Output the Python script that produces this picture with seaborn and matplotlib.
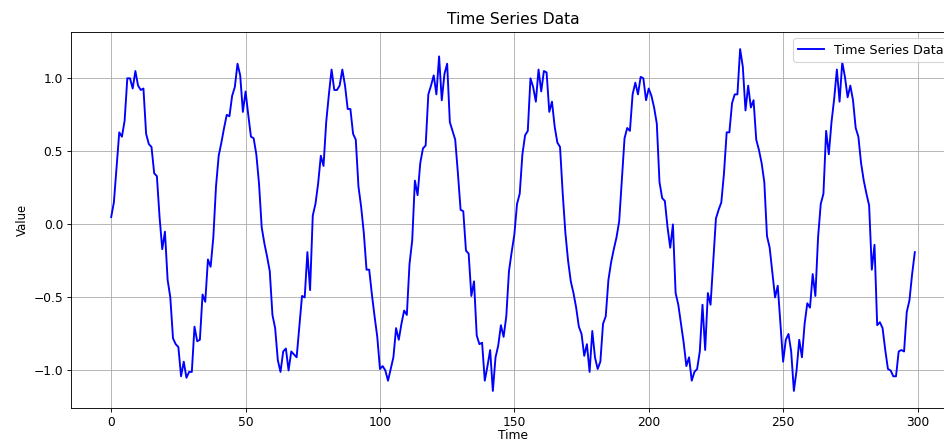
import numpy as np
import pandas as pd
import matplotlib
matplotlib.use("Agg")
import matplotlib.pyplot as plt
import seaborn as sns

values = [
    0.05, 0.15, 0.39, 0.63, 0.60, 0.71, 1.00, 1.00, 0.93, 1.05,
    0.95, 0.92, 0.93, 0.62, 0.55, 0.53, 0.35, 0.33, 0.05, -0.17,
    -0.05, -0.38, -0.50, -0.78, -0.82, -0.84, -1.04, -0.94, -1.05, -1.01,
    -1.01, -0.70, -0.80, -0.79, -0.48, -0.53, -0.24, -0.29, -0.09, 0.26,
    0.47, 0.56, 0.66, 0.75, 0.74, 0.88, 0.94, 1.10, 1.02, 0.77,
    0.91, 0.75, 0.60, 0.59, 0.48, 0.28, -0.02, -0.13, -0.22, -0.32,
    -0.62, -0.71, -0.93, -1.01, -0.87, -0.85, -1.00, -0.87, -0.89, -0.91,
    -0.70, -0.49, -0.50, -0.19, -0.45, 0.06, 0.14, 0.28, 0.47, 0.40,
    0.70, 0.89, 1.06, 0.92, 0.92, 0.95, 1.06, 0.95, 0.79, 0.79,
    0.62, 0.58, 0.26, 0.12, -0.06, -0.31, -0.31, -0.48, -0.63, -0.77,
    -0.99, -0.97, -1.00, -1.07, -0.99, -0.91, -0.71, -0.79, -0.68, -0.59,
    -0.62, -0.27, -0.11, 0.30, 0.20, 0.42, 0.52, 0.54, 0.89, 0.95,
    1.02, 0.89, 1.15, 0.85, 1.03, 1.10, 0.70, 0.64, 0.58, 0.35,
    0.10, 0.09, -0.18, -0.20, -0.49, -0.39, -0.76, -0.82, -0.81, -1.07,
    -0.97, -0.86, -1.14, -0.91, -0.83, -0.69, -0.77, -0.63, -0.32, -0.19,
    -0.07, 0.14, 0.21, 0.48, 0.61, 0.64, 1.00, 0.94, 0.84, 1.06,
    0.91, 1.05, 1.04, 0.77, 0.84, 0.67, 0.56, 0.53, 0.21, -0.06,
    -0.25, -0.39, -0.47, -0.57, -0.70, -0.75, -0.90, -0.82, -1.01, -0.73,
    -0.91, -0.99, -0.94, -0.68, -0.63, -0.38, -0.26, -0.17, -0.09, 0.02,
    0.30, 0.59, 0.66, 0.64, 0.89, 0.97, 0.89, 1.01, 1.00, 0.85,
    0.93, 0.88, 0.80, 0.69, 0.29, 0.18, 0.16, -0.02, -0.16, 0.00,
    -0.47, -0.55, -0.68, -0.81, -0.97, -0.91, -1.07, -1.01, -0.99, -0.87,
    -0.55, -0.86, -0.47, -0.55, -0.25, 0.04, 0.10, 0.15, 0.35, 0.63,
    0.63, 0.83, 0.89, 0.89, 1.20, 1.08, 0.78, 0.95, 0.80, 0.85,
    0.58, 0.51, 0.42, 0.29, -0.08, -0.16, -0.33, -0.50, -0.42, -0.68,
    -0.94, -0.79, -0.75, -0.87, -1.14, -1.00, -0.79, -0.91, -0.68, -0.54,
    -0.57, -0.34, -0.49, -0.09, 0.14, 0.21, 0.64, 0.48, 0.70, 0.86,
    1.06, 0.84, 1.11, 1.01, 0.87, 0.95, 0.85, 0.66, 0.60, 0.42,
    0.30, 0.21, 0.13, -0.31, -0.14, -0.69, -0.67, -0.71, -0.86, -0.99,
    -1.00, -1.04, -1.04, -0.87, -0.86, -0.87, -0.60, -0.52, -0.34, -0.19,
]
time = np.arange(len(values))

df = pd.DataFrame({"Time": time, "Value": values})

fig = plt.figure(figsize=(944 / 80, 442 / 80), dpi=80)
ax = fig.add_axes([71 / 944, 34 / 442, (955 - 71) / 944, (408 - 32) / 442])

sns.lineplot(data=df, x="Time", y="Value", color="blue", linewidth=1.7,
             label="Time Series Data", ax=ax)
ax.set_title("Time Series Data", fontsize=14, pad=7)
ax.set_xlabel("Time", fontsize=11, labelpad=0)
ax.set_ylabel("Value", fontsize=10.5)
ax.tick_params(labelsize=11)
ax.grid(True)
ax.legend(loc="upper right", fontsize=11.5)

fig.savefig("out.png", dpi=80)
